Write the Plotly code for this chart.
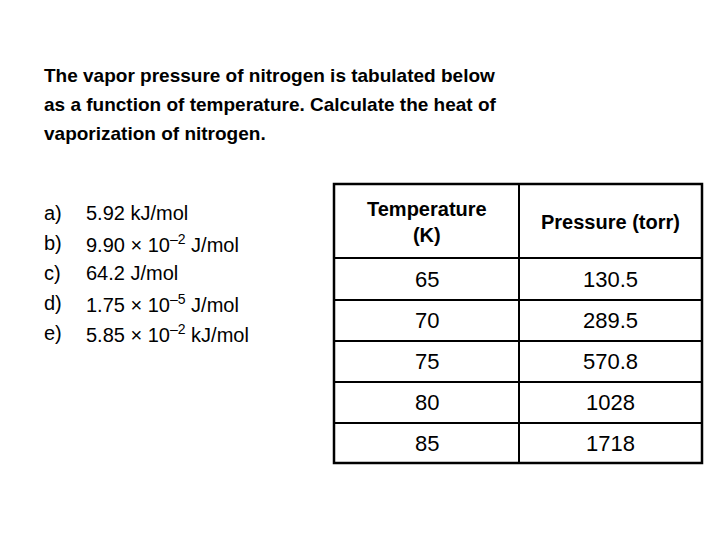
import plotly.graph_objects as go

title_lines = [
    "The vapor pressure of nitrogen is tabulated below",
    "as a function of temperature. Calculate the heat of",
    "vaporization of nitrogen.",
]
option_letters = ["a)", "b)", "c)", "d)", "e)"]
option_texts = [
    "5.92 kJ/mol",
    "9.90 × 10<sup>–2</sup> J/mol",
    "64.2 J/mol",
    "1.75 × 10<sup>–5</sup> J/mol",
    "5.85 × 10<sup>–2</sup> kJ/mol",
]
headers = ["Temperature<br>(K)", "Pressure (torr)"]
temperature = ["65", "70", "75", "80", "85"]
pressure = ["130.5", "289.5", "570.8", "1028", "1718"]

FONT = "Liberation Sans, Arial, sans-serif"

fig = go.Figure()
fig.add_trace(go.Scatter(x=[0], y=[0], mode="markers", marker=dict(opacity=0), showlegend=False, hoverinfo="skip"))

ann = []
for i, line in enumerate(title_lines):
    ann.append(dict(x=42, y=75 + i * 29, text=f"<b>{line}</b>", xanchor="left", yanchor="middle",
                    showarrow=False, font=dict(size=19, color="black", family=FONT)))
for i, (l, t) in enumerate(zip(option_letters, option_texts)):
    y = 213 + i * 30
    ann.append(dict(x=42, y=y, text=l, xanchor="left", yanchor="middle", showarrow=False,
                    font=dict(size=20, color="black", family=FONT)))
    ann.append(dict(x=84, y=y, text=t, xanchor="left", yanchor="middle", showarrow=False,
                    font=dict(size=20, color="black", family=FONT)))

# table geometry
x0, xm, x1 = 334, 519, 702
row_edges = [184, 258, 300, 341, 382, 423, 463]
c1, c2 = (x0 + xm) / 2, (xm + x1) / 2
ann.append(dict(x=c1, y=222, text=f"<b>{headers[0]}</b>", showarrow=False,
                font=dict(size=20, color="black", family=FONT)))
ann.append(dict(x=c2, y=222, text=f"<b>{headers[1]}</b>", showarrow=False,
                font=dict(size=20, color="black", family=FONT)))
for i, (t, p) in enumerate(zip(temperature, pressure)):
    yc = (row_edges[i + 1] + row_edges[i + 2]) / 2
    ann.append(dict(x=c1, y=yc, text=t, showarrow=False, font=dict(size=22, color="black", family=FONT)))
    ann.append(dict(x=c2, y=yc, text=p, showarrow=False, font=dict(size=22, color="black", family=FONT)))

ann.append(dict(x=6, y=523, text="© 2014 Pearson Education, Inc.", xanchor="left", yanchor="middle",
                showarrow=False, font=dict(size=9, color="black", family=FONT)))

shapes = [dict(type="rect", x0=x0, x1=x1, y0=row_edges[0], y1=row_edges[-1],
               line=dict(color="black", width=2.5))]
shapes.append(dict(type="line", x0=xm, x1=xm, y0=row_edges[0], y1=row_edges[-1],
                   line=dict(color="black", width=2)))
for y in row_edges[1:-1]:
    shapes.append(dict(type="line", x0=x0, x1=x1, y0=y, y1=y, line=dict(color="black", width=2)))

# page has an 8px body margin, so draw a 712x532 figure covering pixels 8..720 / 8..540
fig.update_layout(
    width=712, height=532, margin=dict(l=0, r=0, t=0, b=0),
    paper_bgcolor="white", plot_bgcolor="white",
    xaxis=dict(range=[8, 720], visible=False, fixedrange=True),
    yaxis=dict(range=[540, 8], visible=False, fixedrange=True),
    annotations=ann, shapes=shapes, showlegend=False,
)
fig.write_html("out.html")
